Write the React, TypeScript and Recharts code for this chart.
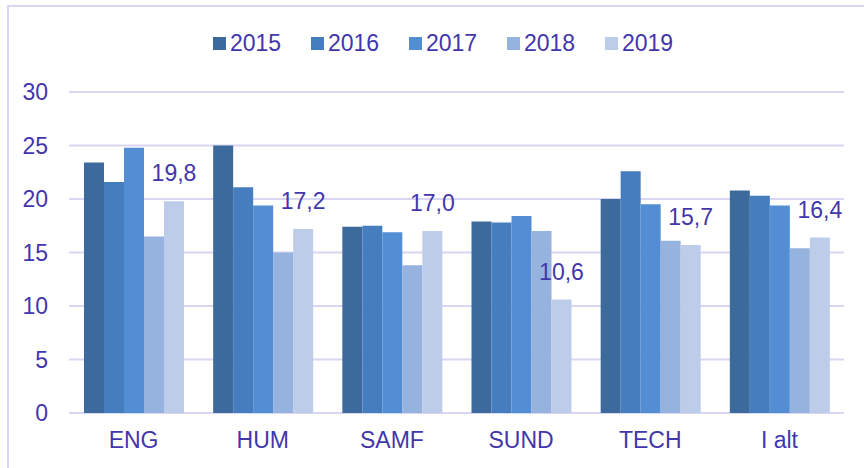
import { Bar, BarChart, CartesianGrid, LabelList, Legend, XAxis, YAxis } from 'recharts'

const categories = ['ENG', 'HUM', 'SAMF', 'SUND', 'TECH', 'I alt']
const years = ['2015', '2016', '2017', '2018', '2019']
const v2015 = [23.4, 25.0, 17.4, 17.9, 20.0, 20.8]
const v2016 = [21.6, 21.1, 17.5, 17.8, 22.6, 20.3]
const v2017 = [24.8, 19.4, 16.9, 18.4, 19.5, 19.4]
const v2018 = [16.5, 15.0, 13.8, 17.0, 16.1, 15.4]
const v2019 = [19.8, 17.2, 17.0, 10.6, 15.7, 16.4]
const yTicks = [0, 5, 10, 15, 20, 25, 30]

const COLORS = ['#3c6a9c', '#467dbe', '#538dd3', '#96b2df', '#bdcce8']
const TEXT = '#4236ac'
const GRID = '#d9d6f3'
const FONT = '"Liberation Sans", Arial, sans-serif'
const FS = 23

const series = [v2015, v2016, v2017, v2018, v2019]
const data = categories.map((name, i) => {
  const row: Record<string, string | number> = { name }
  years.forEach((y, s) => {
    row[y] = series[s][i]
  })
  return row
})

const fmt = (v: unknown) => Number(v).toFixed(1).replace('.', ',')

function LegendContent({ payload }: { payload?: Array<{ value: string; color: string }> }) {
  return (
    <div style={{ display: 'flex', paddingLeft: 213 }}>
      {(payload ?? []).map((p) => (
        <div key={p.value} style={{ display: 'flex', alignItems: 'center', width: 98 }}>
          <span style={{ width: 13, height: 13, background: p.color, marginRight: 4 }} />
          <span style={{ color: TEXT, fontSize: FS, fontFamily: FONT }}>{p.value}</span>
        </div>
      ))}
    </div>
  )
}

export default function App() {
  return (
    <div style={{ position: 'absolute', left: 0, top: 0, width: 864, height: 468, background: '#fff', overflow: 'hidden' }}>
      <div
        style={{
          position: 'absolute',
          left: 7,
          top: 5,
          width: 900,
          height: 500,
          borderLeft: `2px solid ${GRID}`,
          borderTop: `2px solid ${GRID}`,
        }}
      />
      <div style={{ position: 'absolute', left: 0, top: 0 }}>
        <BarChart
          width={864}
          height={468}
          data={data}
          margin={{ top: 92, right: 20, bottom: 25, left: 0 }}
          barCategoryGap={15}
          barGap={0}
        >
          <CartesianGrid vertical={false} stroke={GRID} strokeWidth={2} />
          <XAxis
            dataKey="name"
            height={30}
            axisLine={false}
            tickLine={false}
            tickMargin={13}
            tick={{ fill: TEXT, fontSize: FS, fontFamily: FONT }}
          />
          <YAxis
            width={69}
            domain={[0, 30]}
            ticks={yTicks}
            axisLine={false}
            tickLine={false}
            tickMargin={15}
            tick={{ fill: TEXT, fontSize: FS, fontFamily: FONT }}
          />
          <Legend
            verticalAlign="middle"
            align="center"
            wrapperStyle={{ top: 30, left: 0, width: 864 }}
            content={(props: any) => <LegendContent payload={props.payload} />}
          />
          {years.map((y, i) => (
            <Bar key={y} dataKey={y} fill={COLORS[i]} isAnimationActive={false}>
              {y === '2019' && (
                <LabelList
                  dataKey={y}
                  position="top"
                  offset={20}
                  formatter={fmt}
                  fill={TEXT}
                  style={{ fontSize: FS, fontFamily: FONT }}
                />
              )}
            </Bar>
          ))}
        </BarChart>
      </div>
    </div>
  )
}
